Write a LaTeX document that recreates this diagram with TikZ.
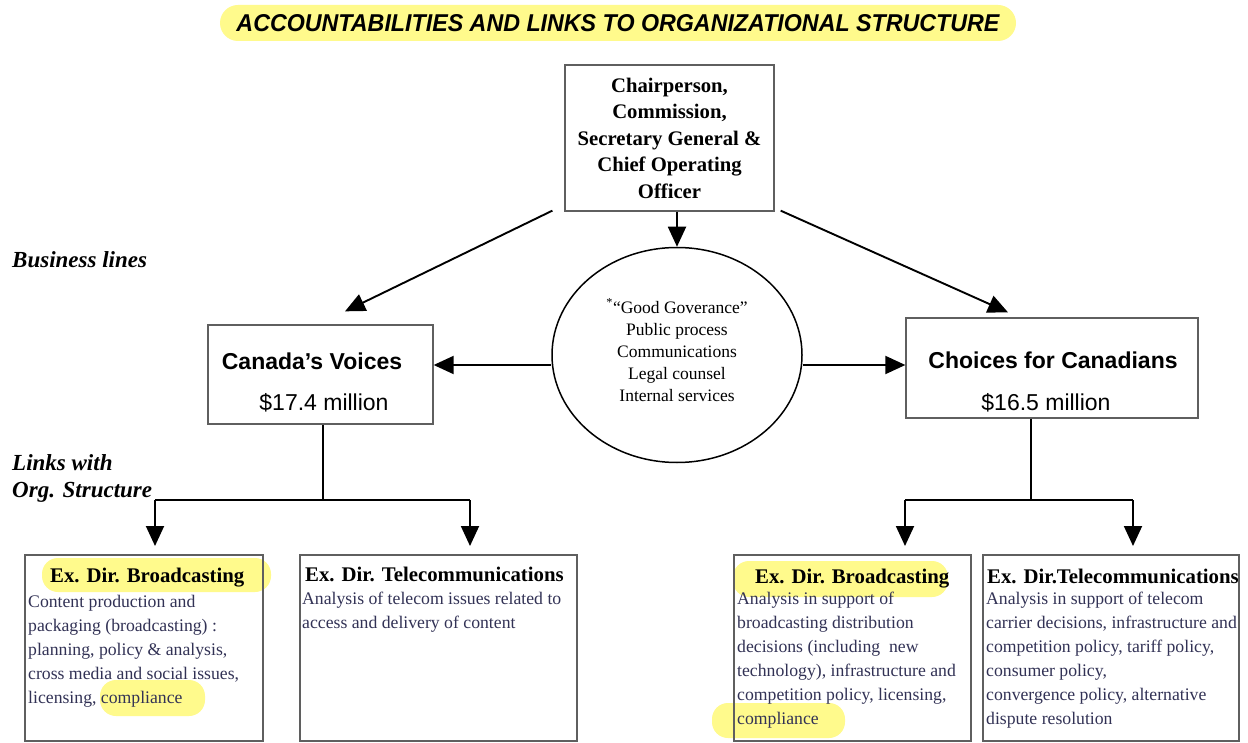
\documentclass[tikz,border=0pt]{standalone}
\usepackage{fontspec}
\setmainfont{Liberation Serif}
\setsansfont{Liberation Sans}
\usetikzlibrary{arrows.meta,calc,shapes.geometric}
\definecolor{hl}{RGB}{255,250,140}
\definecolor{bodytxt}{RGB}{50,50,85}
\definecolor{boxline}{RGB}{95,95,95}
\begin{document}
\begin{tikzpicture}[x=1pt,y=-1pt,
  box/.style={draw=boxline,line width=1.3pt,inner sep=0pt},
  conn/.style={line width=1.9pt,draw=black},
  arr/.style={conn,-{Triangle[length=20pt,width=18pt]}},
  hlbox/.style={fill=hl,rounded corners=16pt},
  sidelab/.style={anchor=base west,inner sep=0pt,font=\fontsize{23}{27}\selectfont\bfseries\itshape},
  bltitle/.style={anchor=base west,inner sep=0pt,font=\fontsize{20.8}{24}\selectfont\bfseries},
  bodytext/.style={anchor=north west,inner sep=0pt,align=left,text=bodytxt,font=\fontsize{17.7}{24}\selectfont},
  blname/.style={inner sep=0pt,font=\fontsize{23}{28}\selectfont\sffamily\bfseries},
  blamt/.style={inner sep=0pt,font=\fontsize{23}{28}\selectfont\sffamily}]
\useasboundingbox (0,0) rectangle (1248,743);
\fill[white] (0,0) rectangle (1248,743);

% highlights
\fill[hlbox,rounded corners=18pt] (220,5) rectangle (1016,41);
\fill[hlbox] (42,558) rectangle (271,592);
\fill[hlbox] (100,680) rectangle (205,716);
\fill[hlbox] (733,561) rectangle (948,597);
\fill[hlbox] (712,703) rectangle (845,738);

% title
\node[inner sep=0pt] (title) at (618,23) {\resizebox{763pt}{17pt}{\fontsize{24}{24}\selectfont\sffamily\bfseries\itshape ACCOUNTABILITIES AND LINKS TO ORGANIZATIONAL STRUCTURE}};

% top box
\node[box,minimum width=209pt,minimum height=146pt,align=center,
      font=\fontsize{20.7}{26.5}\selectfont\bfseries] (top) at (669.5,138)
  {Chairperson,\\Commission,\\Secretary General \&\\Chief Operating\\Officer};

% circle
\node[draw,ellipse,line width=1.5pt,minimum width=250pt,minimum height=215pt] (circ) at (677,355) {};
\node[align=center,inner sep=0pt,font=\fontsize{17.5}{22}\selectfont] (circtext) at (677,350)
  {\textsuperscript{*}“Good Goverance”\\Public process\\Communications\\Legal counsel\\Internal services};

% business lines
\node[box,minimum width=225pt,minimum height=99pt] (cv) at (320.5,374.5) {};
\node[blname] (cvname) at (312,361) {Canada's Voices};
\node[blamt] (cvamt) at (324,403) {\$17.4 million};
\node[box,minimum width=292pt,minimum height=100pt] (ch) at (1052,368) {};
\node[blname] (chname) at (1053,360) {Choices for Canadians};
\node[blamt] (chamt) at (1046,403) {\$16.5 million};

% side labels
\node[sidelab] (bl) at (12,268) {Business lines};
\node[sidelab] (lw) at (12,470) {Links with};
\node[sidelab] (os) at (12,497) {Org. Structure};

% bottom boxes
\node[box,minimum width=238pt,minimum height=186pt] (b1) at (144,648) {};
\node[box,minimum width=277pt,minimum height=186pt] (b2) at (438.5,648) {};
\node[box,minimum width=237pt,minimum height=186pt] (b3) at (852.5,648) {};
\node[box,minimum width=256pt,minimum height=186pt] (b4) at (1111,648) {};

\node[bltitle] (b1t) at (50,582) {Ex. Dir. Broadcasting};
\node[bodytext] (b1b) at (28,595) {Content production and\\packaging (broadcasting) :\\planning, policy \& analysis,\\cross media and social issues,\\licensing, compliance};
\node[bltitle] (b2t) at (305,581) {Ex. Dir. Telecommunications};
\node[bodytext] (b2b) at (302,592) {Analysis of telecom issues related to\\access and delivery of content};
\node[bltitle] (b3t) at (755,583) {Ex. Dir. Broadcasting};
\node[bodytext] (b3b) at (737,592) {Analysis in support of\\broadcasting distribution\\decisions (including\ \ new\\technology), infrastructure and\\competition policy, licensing,\\compliance};
\node[bltitle] (b4t) at (987,583) {Ex. Dir.Telecommunications};
\node[bodytext] (b4b) at (986,592) {Analysis in support of telecom\\carrier decisions, infrastructure and\\competition policy, tariff policy,\\consumer policy,\\convergence policy, alternative\\dispute resolution};

% connectors
\draw[arr] (top.south -| circ.north) -- (circ.north);
\draw[arr] ($(top.south west)+(-12,-1)$) -- ($(cv.north)+(24.5,-13)$);
\draw[arr] ($(top.south east)+(6,-1)$) -- ($(ch.north)+(-44,-5)$);
\draw[arr] ($(circ.west)+(0,10)$) -- ($(cv.east)+(0,-9.5)$);
\draw[arr] ($(circ.east)+(0,10)$) -- ($(ch.west)+(0,-3)$);

\coordinate (cvj) at (323,500);
\coordinate (cvl) at (155,500);
\coordinate (cvr) at (470,500);
\coordinate (chj) at (1031,500);
\coordinate (chl) at (905,500);
\coordinate (chr) at (1133,500);
\draw[conn] (cv.south -| cvj) -- (cvj);
\draw[conn] (cvl) -- (cvr);
\draw[arr] (cvl) -- (cvl |- 0,546);
\draw[arr] (cvr) -- (cvr |- 0,546);
\draw[conn] (ch.south -| chj) -- (chj);
\draw[conn] (chl) -- (chr);
\draw[arr] (chl) -- (chl |- 0,546);
\draw[arr] (chr) -- (chr |- 0,546);
\end{tikzpicture}
\end{document}
